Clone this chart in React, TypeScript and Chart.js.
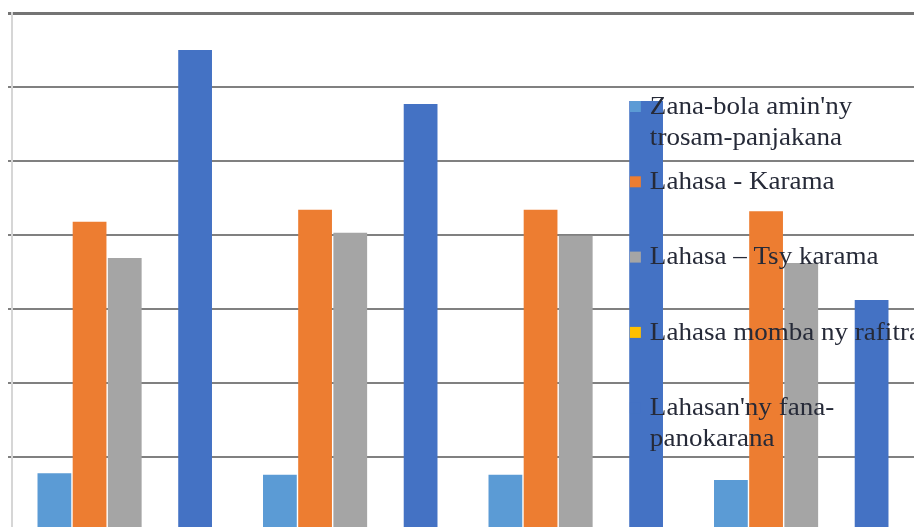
import React, { useEffect, useRef } from "react";
import { Chart, registerables } from "chart.js";

Chart.register(...registerables);

const categories = ["1", "2", "3", "4"];

const seriesNames = [
  "Zana-bola amin'ny trosam-panjakana",
  "Lahasa - Karama",
  "Lahasa – Tsy karama",
  "Lahasa momba ny rafitra",
  "Lahasan'ny fana-panokarana",
];

const legendLines = [
  ["Zana-bola amin'ny", "trosam-panjakana"],
  ["Lahasa - Karama"],
  ["Lahasa – Tsy karama"],
  ["Lahasa momba ny rafitra"],
  ["Lahasan'ny fana-", "panokarana"],
];

const interestValues = [7.8, 7.6, 7.6, 6.9];
const paidValues = [41.8, 43.4, 43.4, 43.2];
const unpaidValues = [36.9, 40.3, 39.9, 36.2];
const structureValues = [0, 0, 0, 0];
const developmentValues = [65.0, 57.7, 58.1, 31.2];

const seriesColors = ["#5B9BD5", "#ED7D31", "#A5A5A5", "#FFC000", "#4472C4"];

const yMin = 0;
const yMax = 70;
const yStep = 10;

const legendPlugin = {
  id: "innerLegend",
  afterDatasetsDraw(chart: any) {
    const { ctx, chartArea } = chart;
    const w = chartArea.right - chartArea.left;
    const markerX = chartArea.left + 0.685 * w;
    const textX = markerX + 20;
    const firstY = chartArea.top + 94;
    const step = 75.3;
    const lineH = 31;
    ctx.save();
    ctx.font = "26px 'Liberation Serif', serif";
    ctx.textBaseline = "middle";
    ctx.textAlign = "left";
    legendLines.forEach((lines, i) => {
      const y = firstY + i * step;
      ctx.fillStyle = seriesColors[i];
      ctx.fillRect(markerX, y - 6, 11, 11);
      ctx.fillStyle = "#262a38";
      lines.forEach((ln, j) => {
        ctx.save();
        ctx.translate(textX, y + j * lineH);
        ctx.scale(1.04, 1);
        ctx.fillText(ln, 0, 0);
        ctx.restore();
      });
    });
    ctx.restore();
  },
};

export default function App() {
  const canvasRef = useRef<HTMLCanvasElement | null>(null);

  useEffect(() => {
    if (!canvasRef.current) return;
    const allValues = [interestValues, paidValues, unpaidValues, structureValues, developmentValues];
    const chart = new Chart(canvasRef.current, {
      type: "bar",
      data: {
        labels: categories,
        datasets: allValues.map((vals, i) => ({
          label: seriesNames[i],
          data: vals,
          backgroundColor: seriesColors[i],
          borderWidth: 0,
          categoryPercentage: 0.78,
          barPercentage: 0.96,
        })),
      },
      options: {
        animation: false,
        responsive: false,
        maintainAspectRatio: false,
        layout: { padding: { top: 13, left: 8, right: 0, bottom: 9 } },
        plugins: {
          legend: { display: false },
          tooltip: { enabled: false },
          title: { display: false },
        },
        scales: {
          x: {
            display: false,
          },
          y: {
            min: yMin,
            max: yMax,
            ticks: { display: false, stepSize: yStep },
            grid: {
              color: (c: any) => (c.tick && c.tick.value === yMax ? "#747474" : "#808080"),
              lineWidth: (c: any) => (c.tick && c.tick.value === yMax ? 3 : 2),
              tickLength: 4,
              drawTicks: true,
            },
            border: { display: true, color: "#d6d6d6", width: 2 },
          },
        },
      },
      plugins: [legendPlugin],
    });
    return () => chart.destroy();
  }, []);

  return (
    <div
      style={{
        position: "fixed",
        left: 0,
        top: 0,
        width: 914,
        height: 527,
        overflow: "hidden",
        background: "#ffffff",
      }}
    >
      <canvas ref={canvasRef} width={914} height={540} style={{ display: "block" }} />
    </div>
  );
}
